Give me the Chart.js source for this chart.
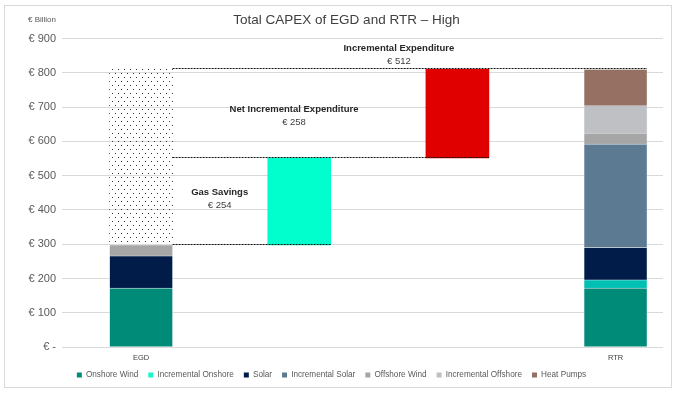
<!DOCTYPE html>
<html>
<head>
<meta charset="utf-8">
<script src="https://cdn.jsdelivr.net/npm/chart.js@4/dist/chart.umd.min.js"></script>
<style>
  html, body { margin: 0; padding: 0; background: #ffffff; }
  #wrap { width: 677px; height: 394px; position: relative; }
</style>
</head>
<body>
<div id="wrap"><canvas id="c" width="677" height="394"></canvas></div>
<script>
// ---- Data ----
const categories = ['EGD', '', '', 'RTR'];
const onshoreWind         = [172, null, null, 172];
const incrementalOnshore  = [null, null, null, 24];
const solar               = [94, null, null, 94];
const incrementalSolar    = [null, null, null, 302];
const offshoreWind        = [32, null, null, 32];
const incrementalOffshore = [null, null, null, 80];
const heatPumps           = [null, null, null, 106];
const gasSavings = 254;
const netIncremental = 258;
const incrementalExpenditure = 512;
const yTicks = [0, 100, 200, 300, 400, 500, 600, 700, 800, 900];

const egdTotal = [onshoreWind, solar, offshoreWind].reduce((s, a) => s + (a[0] || 0), 0);
const gasTop = egdTotal + gasSavings;
const rtrTotal = gasTop + netIncremental;

// ---- Helpers ----
function pts(arr) {
  return arr.map((v, i) => ({ x: i, y: v })).filter(p => p.y !== null);
}
const pc = document.createElement('canvas');
pc.width = 6; pc.height = 8;
const pctx = pc.getContext('2d');
pctx.fillStyle = '#333333';
pctx.fillRect(1, 1, 1, 1);
pctx.fillRect(4, 5, 1, 1);
const dotPattern = document.getElementById('c').getContext('2d').createPattern(pc, 'repeat');

const segBorder = 'rgba(230,236,240,0.9)';
function stacked(label, arr, color, legendColor) {
  return {
    label, data: pts(arr), backgroundColor: color, borderColor: segBorder, borderWidth: 0.6,
    stack: 'main', legendColor: legendColor || color, inLegend: true
  };
}

const datasets = [
  stacked('Onshore Wind', onshoreWind, '#008B79'),
  stacked('Incremental Onshore', incrementalOnshore, '#00C0B3', '#1AF5CC'),
  stacked('Solar', solar, '#011C48'),
  stacked('Incremental Solar', incrementalSolar, '#5C7A92'),
  stacked('Offshore Wind', offshoreWind, '#A6A6A6'),
  stacked('Incremental Offshore', incrementalOffshore, '#BFC0C4'),
  stacked('Heat Pumps', heatPumps, '#967063'),
  { label: 'Incremental (EGD)', data: [{ x: 0, y: [egdTotal, rtrTotal] }], backgroundColor: dotPattern, stack: 'dots', borderWidth: 0 },
  { label: 'Gas Savings', data: [{ x: 1, y: [egdTotal, gasTop] }], backgroundColor: '#00FFCC', stack: 'gas', borderWidth: 0 },
  { label: 'Net Incremental', data: [{ x: 2, y: [gasTop, rtrTotal] }], backgroundColor: '#E10000', stack: 'net', borderWidth: 0 }
];

// annotation anchors (category units, value units)
const notes = [
  { title: 'Incremental Expenditure', value: '€ ' + incrementalExpenditure, x: 1.63, y: 851 },
  { title: 'Net Incremental Expenditure', value: '€ ' + netIncremental, x: 0.967, y: 674 },
  { title: 'Gas Savings', value: '€ ' + gasSavings, x: 0.497, y: 433 }
];

const decor = {
  id: 'decor',
  beforeDraw(chart) {
    const ctx = chart.ctx;
    ctx.save();
    ctx.fillStyle = '#ffffff';
    ctx.fillRect(0, 0, chart.width, chart.height);
    ctx.strokeStyle = '#d9d9d9';
    ctx.lineWidth = 1;
    ctx.strokeRect(4.5, 5.5, 667, 382);
    ctx.fillStyle = '#404040';
    ctx.font = '13.5px "Liberation Sans", Arial, sans-serif';
    ctx.textAlign = 'center';
    ctx.textBaseline = 'middle';
    ctx.fillText('Total CAPEX of EGD and RTR – High', 346.5, 20);
    ctx.fillStyle = '#595959';
    ctx.font = '8px "Liberation Sans", Arial, sans-serif';
    ctx.textAlign = 'left';
    ctx.fillText('€ Billion', 28, 20);
    ctx.restore();
  },
  afterDatasetsDraw(chart) {
    const ctx = chart.ctx;
    const ys = chart.scales.y, xs = chart.scales.x;
    const el = (label, i) => {
      const idx = chart.data.datasets.findIndex(d => d.label === label);
      return chart.getDatasetMeta(idx).data[i || 0];
    };
    const egd = el('Onshore Wind', 0);
    const egdRight = egd.x + egd.width / 2;
    const gas = el('Gas Savings');
    const net = el('Net Incremental');
    const rtr = el('Heat Pumps');
    const lines = [
      [egdTotal, gas.x + gas.width / 2],
      [gasTop, net.x + net.width / 2],
      [rtrTotal, rtr.x + rtr.width / 2]
    ];
    ctx.save();
    ctx.strokeStyle = '#111111';
    ctx.lineWidth = 1;
    ctx.setLineDash([2, 1]);
    lines.forEach(([v, xr]) => {
      const y = Math.round(ys.getPixelForValue(v)) - 0.5;
      ctx.beginPath();
      ctx.moveTo(egdRight, y);
      ctx.lineTo(xr, y);
      ctx.stroke();
    });
    ctx.setLineDash([]);
    ctx.textAlign = 'center';
    ctx.textBaseline = 'middle';
    notes.forEach(n => {
      const x = xs.getPixelForValue(n.x);
      const y = ys.getPixelForValue(n.y);
      ctx.fillStyle = '#262626';
      ctx.font = 'bold 9.5px "Liberation Sans", Arial, sans-serif';
      ctx.fillText(n.title, x, y - 6.5);
      ctx.fillStyle = '#404040';
      ctx.font = '9.5px "Liberation Sans", Arial, sans-serif';
      ctx.fillText(n.value, x, y + 6.5);
    });
    ctx.restore();
  }
};

new Chart(document.getElementById('c'), {
  type: 'bar',
  data: { datasets },
  plugins: [decor],
  options: {
    responsive: false,
    animation: false,
    events: [],
    layout: { padding: { top: 38.5, right: 14, bottom: 4.8, left: 0 } },
    datasets: { bar: { grouped: false, barThickness: 63 } },
    scales: {
      x: {
        type: 'linear', min: -0.5, max: 3.3, stacked: true, offset: false,
        grid: { display: false, drawTicks: false },
        border: { display: false },
        afterBuildTicks(scale) { scale.ticks = [{ value: 0 }, { value: 3 }]; },
        afterFit(scale) { scale.height = 13.9; },
        ticks: {
          padding: 6, color: '#404040', maxRotation: 0,
          font: { family: '"Liberation Sans", Arial, sans-serif', size: 7.5 },
          callback: (v) => categories[v]
        }
      },
      y: {
        min: 0, max: 900, stacked: true,
        afterFit(scale) { scale.width = 62; },
        afterBuildTicks(scale) { scale.ticks = yTicks.map(v => ({ value: v })); },
        grid: { color: '#d9d9d9', lineWidth: 1, drawTicks: false },
        border: { display: false },
        ticks: {
          padding: 6, color: '#595959',
          font: { family: '"Liberation Sans", Arial, sans-serif', size: 11 },
          callback: (v) => v === 0 ? '€ -' : '€ ' + v
        }
      }
    },
    plugins: {
      title: { display: false },
      tooltip: { enabled: false },
      legend: {
        position: 'bottom',
        labels: {
          boxWidth: 5, boxHeight: 5, padding: 10, color: '#595959',
          font: { family: '"Liberation Sans", Arial, sans-serif', size: 8.2 },
          generateLabels(chart) {
            return chart.data.datasets
              .map((d, i) => ({ d, i }))
              .filter(o => o.d.inLegend)
              .map(o => ({
                text: o.d.label, fillStyle: o.d.legendColor, strokeStyle: o.d.legendColor,
                lineWidth: 0, hidden: false, datasetIndex: o.i, fontColor: '#595959'
              }));
          }
        }
      }
    }
  }
});
</script>
</body>
</html>
